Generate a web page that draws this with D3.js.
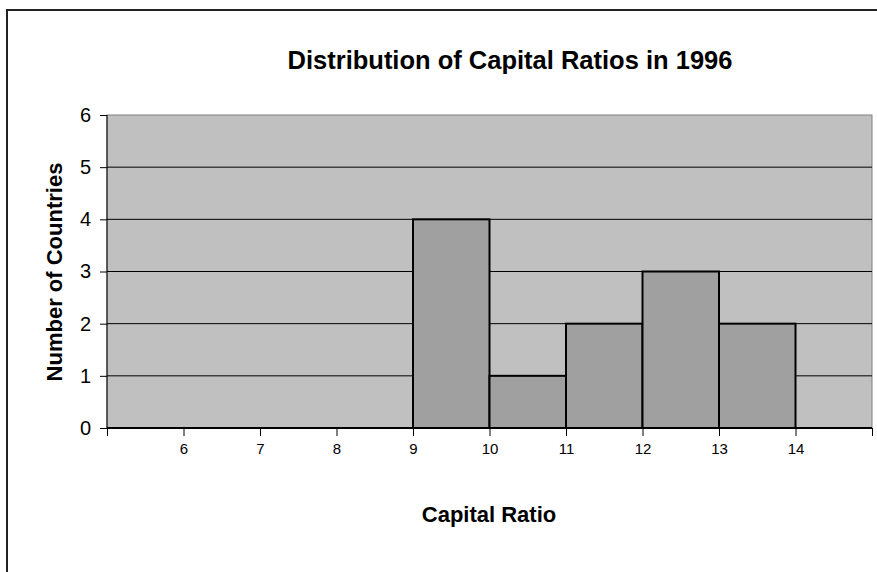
<!DOCTYPE html>
<html>
<head>
<meta charset="utf-8">
<script src="https://cdn.jsdelivr.net/npm/d3@7"></script>
<style>
  body { margin: 0; background: #fff; }
  text { font-family: Arial, "Liberation Sans", sans-serif; }
</style>
</head>
<body>
<svg id="chart" width="877" height="572"></svg>
<script>
// bin edges (capital ratio) and counts per bin
const binStarts = [5, 6, 7, 8, 9, 10, 11, 12, 13, 14];
const counts    = [0, 0, 0, 0, 4, 1, 2, 3, 2, 0];
const xTickLabels = [6, 7, 8, 9, 10, 11, 12, 13, 14];
const yTicks = [0, 1, 2, 3, 4, 5, 6];

const svg = d3.select("#chart");
const plot = { left: 107, top: 115, right: 872, bottom: 428 };

// outer chart frame (runs off the right/bottom edge)
svg.append("rect")
  .attr("x", 7).attr("y", 10)
  .attr("width", 900).attr("height", 600)
  .attr("fill", "#fff")
  .attr("stroke", "#222")
  .attr("stroke-width", 2);

const x = d3.scaleLinear().domain([5, 15]).range([plot.left, plot.right]);
const y = d3.scaleLinear().domain([0, 6]).range([plot.bottom, plot.top]);

// plot background
svg.append("rect")
  .attr("x", plot.left).attr("y", plot.top)
  .attr("width", plot.right - plot.left)
  .attr("height", plot.bottom - plot.top)
  .attr("fill", "#c0c0c0")
  .attr("stroke", "#808080")
  .attr("stroke-width", 1);

// gridlines
svg.append("g")
  .selectAll("line")
  .data(yTicks.filter(d => d > 0 && d < 6))
  .join("line")
  .attr("x1", plot.left).attr("x2", plot.right)
  .attr("y1", d => y(d)).attr("y2", d => y(d))
  .attr("stroke", "#000")
  .attr("stroke-width", 1);

// bars
svg.append("g")
  .selectAll("rect")
  .data(binStarts.map((s, i) => ({ s, v: counts[i] })).filter(d => d.v > 0))
  .join("rect")
  .attr("x", d => x(d.s))
  .attr("y", d => y(d.v))
  .attr("width", d => x(d.s + 1) - x(d.s))
  .attr("height", d => y(0) - y(d.v))
  .attr("fill", "#a0a0a0")
  .attr("stroke", "#000")
  .attr("stroke-width", 2);

// y axis
const yAxis = d3.axisLeft(y).tickValues(yTicks).tickSize(7).tickPadding(9)
  .tickFormat(d3.format("d"));
const yg = svg.append("g").attr("transform", `translate(${plot.left},0)`).call(yAxis);
yg.attr("font-size", null).attr("font-family", null);
yg.select(".domain").attr("stroke", "#000").attr("d", `M0,${plot.top}V${plot.bottom}`);
yg.selectAll(".tick line").attr("stroke", "#000");
yg.selectAll(".tick text").style("font-size", "20px").attr("fill", "#000");

// x axis: tick marks at every bin edge, labels for inner edges only
const xAxis = d3.axisBottom(x).tickValues(d3.range(5, 16)).tickSize(8).tickPadding(7)
  .tickFormat(d => xTickLabels.includes(d) ? d : "");
const xg = svg.append("g").attr("transform", `translate(0,${plot.bottom})`).call(xAxis);
xg.attr("font-size", null).attr("font-family", null);
xg.select(".domain").attr("stroke", "#000").attr("stroke-width", 2)
  .attr("d", `M${plot.left},0H${plot.right}`);
xg.selectAll(".tick line").attr("stroke", "#000");
xg.selectAll(".tick text").style("font-size", "15px").attr("fill", "#000");

// title
svg.append("text")
  .attr("x", 510).attr("y", 69)
  .attr("text-anchor", "middle")
  .style("font-size", "25.5px").attr("font-weight", "bold")
  .text("Distribution of Capital Ratios in 1996");

// axis titles
svg.append("text")
  .attr("x", 489).attr("y", 522)
  .attr("text-anchor", "middle")
  .style("font-size", "22px").attr("font-weight", "bold")
  .text("Capital Ratio");

svg.append("text")
  .attr("transform", "translate(62,272) rotate(-90)")
  .attr("text-anchor", "middle")
  .style("font-size", "22px").attr("font-weight", "bold")
  .text("Number of Countries");
</script>
</body>
</html>
